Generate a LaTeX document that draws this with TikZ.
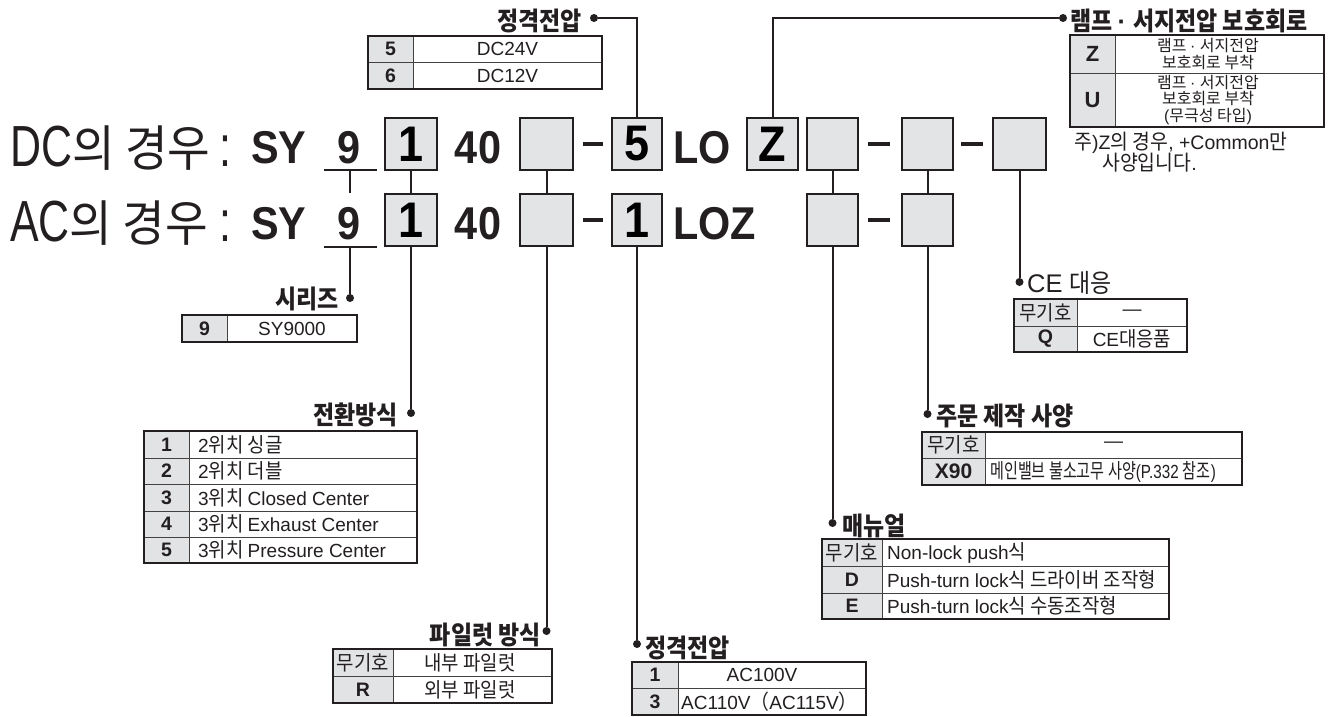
\documentclass[tikz,border=0pt]{standalone}
\usepackage{fontspec}
\usepackage{graphicx}
\setmainfont{Liberation Sans}
\newfontfamily\latinfam{Liberation Sans}
\newfontfamily\krfam{Noto Sans CJK KR}
\newfontfamily\bigLat[FakeStretch=0.74]{Liberation Sans}
\newfontfamily\bigKr[FakeStretch=0.94,Scale=0.85]{Noto Sans CJK KR}
\newfontfamily\boldLat[FakeStretch=0.9]{Liberation Sans}
\newfontfamily\hdKr[FakeStretch=0.9]{Noto Sans CJK KR}
\newfontfamily\tbKr[FakeStretch=0.92,Scale=1.08]{Noto Sans CJK KR}
\newcommand\lasw{\latinfam}
\newcommand\krsw{\krfam}
% automatic switching to the Korean font for Hangul
\XeTeXinterchartokenstate=1
\newXeTeXintercharclass\krclass
\count255="AC00
\loop
  \XeTeXcharclass\count255=\krclass
  \advance\count255 by 1
\ifnum\count255<"D7A4 \repeat
\XeTeXcharclass"FF08=\krclass
\XeTeXcharclass"FF09=\krclass
\XeTeXinterchartoks 0 \krclass = {\krsw}
\XeTeXinterchartoks 4095 \krclass = {\krsw}
\XeTeXinterchartoks \krclass 0 = {\lasw}
\XeTeXinterchartoks 4095 0 = {\lasw}

\newcommand\bigR{\fontsize{58}{60}\selectfont\bigLat\def\lasw{\bigLat}\def\krsw{\bigKr}}
\newcommand\bigB{\fontsize{46}{48}\selectfont\bfseries\boldLat\def\lasw{\boldLat}\def\krsw{\bigKr}}
\newcommand\boxB{\fontsize{50}{52}\selectfont\bfseries\boldLat\def\lasw{\boldLat}\def\krsw{\bigKr}}
\newcommand\hdfont{\fontsize{25.5}{27}\selectfont\bfseries\def\krsw{\hdKr}}
\newcommand\hdrfont{\fontsize{25.5}{27}\selectfont\def\krsw{\hdKr}}
\newcommand\tbfont{\fontsize{19}{21}\selectfont\def\krsw{\tbKr}}
\newcommand\tbbfont{\fontsize{19.5}{21}\selectfont\bfseries\def\krsw{\tbKr}}
\newcommand\smfont{\fontsize{16}{16.5}\selectfont\def\krsw{\krfam}}
\newcommand\notefont{\fontsize{19.5}{20}\selectfont\def\krsw{\tbKr}}

\definecolor{ink}{HTML}{231F20}
\definecolor{boxfill}{HTML}{E3E4E6}
\definecolor{cellfill}{HTML}{E2E3E5}

\tikzset{
  conn/.style={line width=2pt, draw=ink},
  dashbar/.style={line width=4pt, draw=ink},
  valbox/.style={draw=ink, line width=2pt, fill=boxfill, inner sep=0pt, minimum height=52pt},
  pdot/.style={circle, fill=ink, inner sep=0pt, minimum size=8pt},
  head/.style={inner sep=0pt, text=ink, font=\hdfont},
  headr/.style={inner sep=0pt, text=ink, font=\hdrfont},
  txt/.style={inner sep=0pt, text=ink},
  tb/.style={inner sep=0pt, text=ink, font=\tbfont},
  tbb/.style={inner sep=0pt, text=ink, font=\tbbfont},
  tline/.style={line width=1pt, draw=ink!85},
  tframe/.style={line width=1.5pt, draw=ink},
  ttop/.style={line width=2.6pt, draw=ink},
}

% #1 x1, #2 column divider, #3 x2, #4 top, #5 bottom, #6 inner row lines
\newcommand\tblframe[6]{%
  \fill[cellfill] (#1,#4) rectangle (#2,#5);
  \foreach \yy in {#6} {\draw[tline] (#1,\yy) -- (#3,\yy);}
  \draw[tline] (#2,#4) -- (#2,#5);
  \draw[tframe] (#1,#4) rectangle (#3,#5);
  \draw[ttop] (#1,#4) -- (#3,#4);
}

\begin{document}
\begin{tikzpicture}[x=1pt,y=-1pt]
\useasboundingbox (0,0) rectangle (1337,716);
\fill[white] (0,0) rectangle (1337,716);

% ---------------- DC row ----------------
\node[txt, anchor=base west] (dclab) at (10,166) {\bigR DC의 경우};
\node[txt, anchor=base] (dccolon) at (225,166) {\bigR :};
\node[txt, anchor=base west] (dcSY) at (251,163) {\bigB SY};
\node[txt, anchor=base] (dc9) at (349,163) {\bigB 9};
\coordinate (u9dcL) at (324,170);
\coordinate (u9dcR) at (377,170);
\coordinate (u9dc) at (350,170);
\node[valbox, minimum width=52] (dc1) at (411,144) {\boxB 1};
\node[txt, anchor=base] (dc40) at (478,163) {\bigB 40};
\node[valbox, minimum width=53] (dcA) at (546.5,144) {};
\coordinate (dcDash1L) at (583,144);
\coordinate (dcDash1R) at (603,144);
\node[valbox, minimum width=50] (dc5) at (637,144) {\boxB 5};
\node[txt, anchor=base west] (dcLO) at (673,163) {\bigB LO};
\node[valbox, minimum width=51] (dcZ) at (772.5,144) {\boxB Z};
\node[valbox, minimum width=51] (dcB) at (832.5,144) {};
\coordinate (dcDash2L) at (868,144);
\coordinate (dcDash2R) at (890,144);
\node[valbox, minimum width=51] (dcC) at (927.5,144) {};
\coordinate (dcDash3L) at (961,144);
\coordinate (dcDash3R) at (983,144);
\node[valbox, minimum width=53] (dcD) at (1019.5,144) {};

% ---------------- AC row ----------------
\node[txt, anchor=base west] (aclab) at (10,241) {\bigR AC의 경우};
\node[txt, anchor=base] (accolon) at (225,241) {\bigR :};
\node[txt, anchor=base west] (acSY) at (251,239) {\bigB SY};
\node[txt, anchor=base] (ac9) at (349,239) {\bigB 9};
\coordinate (t9ac) at (350,193);
\coordinate (u9acL) at (324,247);
\coordinate (u9acR) at (377,247);
\coordinate (u9ac) at (350,247);
\node[valbox, minimum width=52] (ac1) at (411,220) {\boxB 1};
\node[txt, anchor=base] (ac40) at (478,239) {\bigB 40};
\node[valbox, minimum width=53] (acA) at (546.5,220) {};
\coordinate (acDash1L) at (583,220);
\coordinate (acDash1R) at (603,220);
\node[valbox, minimum width=50] (ac5) at (637,220) {\boxB 1};
\node[txt, anchor=base west] (acLOZ) at (673,239) {\bigB LOZ};
\node[valbox, minimum width=51] (acB) at (832.5,220) {};
\coordinate (acDash2L) at (868,220);
\coordinate (acDash2R) at (890,220);
\node[valbox, minimum width=51] (acC) at (927.5,220) {};

% underlines and dashes
\draw[conn] (u9dcL) -- (u9dcR);
\draw[conn] (u9acL) -- (u9acR);
\draw[dashbar] (dcDash1L) -- (dcDash1R);
\draw[dashbar] (dcDash2L) -- (dcDash2R);
\draw[dashbar] (dcDash3L) -- (dcDash3R);
\draw[dashbar] (acDash1L) -- (acDash1R);
\draw[dashbar] (acDash2L) -- (acDash2R);

% ---------------- dots ----------------
\node[pdot] (dVdc) at (594,18) {};
\node[pdot] (dLamp) at (1063,18) {};
\node[pdot] (dSeries) at (350,298) {};
\node[pdot] (dSwitch) at (411,413) {};
\node[pdot] (dPilot) at (546.5,631) {};
\node[pdot] (dVac) at (637,644) {};
\node[pdot] (dManual) at (832.5,523) {};
\node[pdot] (dOrder) at (927.5,414) {};
\node[pdot] (dCE) at (1019.5,282) {};

% ---------------- connectors ----------------
\draw[conn] (u9dc) -- (t9ac);
\draw[conn] (dc1) -- (ac1);
\draw[conn] (dcA) -- (acA);
\draw[conn] (dcB) -- (acB);
\draw[conn] (dcC) -- (acC);
\draw[conn] (dc5.north) |- (dVdc);
\draw[conn] (dcZ.north) |- (dLamp);
\draw[conn] (u9ac) -- (dSeries);
\draw[conn] (ac1) -- (dSwitch);
\draw[conn] (acA) -- (dPilot);
\draw[conn] (ac5) -- (dVac);
\draw[conn] (acB) -- (dManual);
\draw[conn] (acC) -- (dOrder);
\draw[conn] (dcD) -- (dCE);

% ---------------- headings ----------------
\node[head, anchor=east] (hVdc) at (582,21) {정격전압};
\node[head, anchor=west] (hLamp) at (1070,21) {램프 · 서지전압 보호회로};
\node[head, anchor=east] (hSeries) at (339,299) {시리즈};
\node[head, anchor=east] (hSwitch) at (398,415) {전환방식};
\node[head, anchor=east] (hPilot) at (541,635) {파일럿 방식};
\node[head, anchor=west] (hVac) at (645,648) {정격전압};
\node[head, anchor=west] (hManual) at (842,526) {매뉴얼};
\node[head, anchor=west] (hOrder) at (936,416) {주문 제작 사양};
\node[headr, anchor=west] (hCE) at (1027,283) {CE 대응};

% ---------------- table: DC voltage ----------------
\tblframe{368}{413}{602}{36}{89}{62}
\node[tbb] (tv5) at (390.5,49) {5};
\node[tb] (tv5t) at (507.5,49) {DC24V};
\node[tbb] (tv6) at (390.5,75.5) {6};
\node[tb] (tv6t) at (507.5,75.5) {DC12V};

% ---------------- table: lamp / surge ----------------
\tblframe{1070}{1115}{1324}{35}{127}{73}
\node[txt, font=\fontsize{22}{23}\selectfont\bfseries] (tlZ) at (1092.5,54) {Z};
\node[txt, align=center, font=\smfont] (tlZt) at (1208,54) {램프 · 서지전압\\보호회로 부착};
\node[txt, font=\fontsize{22}{23}\selectfont\bfseries] (tlU) at (1092.5,100) {U};
\node[txt, align=center, font=\smfont] (tlUt) at (1208,100) {램프 · 서지전압\\보호회로 부착\\(무극성 타입)};
\node[txt, anchor=west, font=\notefont] (note1) at (1074,143) {주)Z의 경우, +Common만};
\node[txt, anchor=west, font=\notefont] (note2) at (1102,163) {사양입니다.};

% ---------------- table: series ----------------
\tblframe{182}{227}{357}{315}{342}{}
\node[tbb] (ts9) at (204.5,328.5) {9};
\node[tb] (ts9t) at (292,328.5) {SY9000};

% ---------------- table: switching ----------------
\tblframe{144}{189}{417}{431}{563}{458,484,511,537}
\node[tbb] (tw1) at (166.5,444.5) {1};
\node[tb, anchor=west] (tw1t) at (198,444.5) {2위치 싱글};
\node[tbb] (tw2) at (166.5,471) {2};
\node[tb, anchor=west] (tw2t) at (198,471) {2위치 더블};
\node[tbb] (tw3) at (166.5,497.5) {3};
\node[tb, anchor=west] (tw3t) at (198,497.5) {3위치 Closed Center};
\node[tbb] (tw4) at (166.5,524) {4};
\node[tb, anchor=west] (tw4t) at (198,524) {3위치 Exhaust Center};
\node[tbb] (tw5) at (166.5,550) {5};
\node[tb, anchor=west] (tw5t) at (198,550) {3위치 Pressure Center};

% ---------------- table: pilot ----------------
\tblframe{333}{393}{552}{649}{703}{676}
\node[tb] (tp0) at (363,662.5) {무기호};
\node[tb] (tp0t) at (470,662.5) {내부 파일럿};
\node[tbb] (tpR) at (363,689.5) {R};
\node[tb] (tpRt) at (470,689.5) {외부 파일럿};

% ---------------- table: AC voltage ----------------
\tblframe{632}{678}{866}{662}{715}{688}
\node[tbb] (ta1) at (655,675) {1};
\node[tb] (ta1t) at (762,675) {AC100V};
\node[tbb] (ta3) at (655,701.5) {3};
\node[tb, anchor=west] (ta3t) at (681,701.5) {AC110V（AC115V）};

% ---------------- table: manual ----------------
\tblframe{822}{882}{1169}{539}{619}{566,593}
\node[tb] (tm0) at (852,552.5) {무기호};
\node[tb, anchor=west] (tm0t) at (887,552.5) {Non-lock push식};
\node[tbb] (tmD) at (852,579.5) {D};
\node[tb, anchor=west] (tmDt) at (887,579.5) {Push-turn lock식 드라이버 조작형};
\node[tbb] (tmE) at (852,606) {E};
\node[tb, anchor=west] (tmEt) at (887,606) {Push-turn lock식 수동조작형};

% ---------------- table: made to order ----------------
\tblframe{922}{985}{1242}{432}{485}{458}
\node[tb] (to0) at (953.5,445) {무기호};
\node[tb] (to0t) at (1113.5,445) {—};
\node[tbb, font=\fontsize{21}{23}\selectfont\bfseries] (toX) at (953.5,471.5) {X90};
\node[tb, anchor=west] (toXt) at (990,471.5) {\scalebox{0.8}[1]{메인밸브 불소고무 사양(P.332 참조)}};

% ---------------- table: CE ----------------
\tblframe{1014}{1077}{1187}{299}{352}{326}
\node[tb] (tc0) at (1045.5,312.5) {무기호};
\node[tb] (tc0t) at (1132,312.5) {—};
\node[tbb] (tcQ) at (1045.5,339) {Q};
\node[tb] (tcQt) at (1132,339) {CE대응품};
\end{tikzpicture}
\end{document}
